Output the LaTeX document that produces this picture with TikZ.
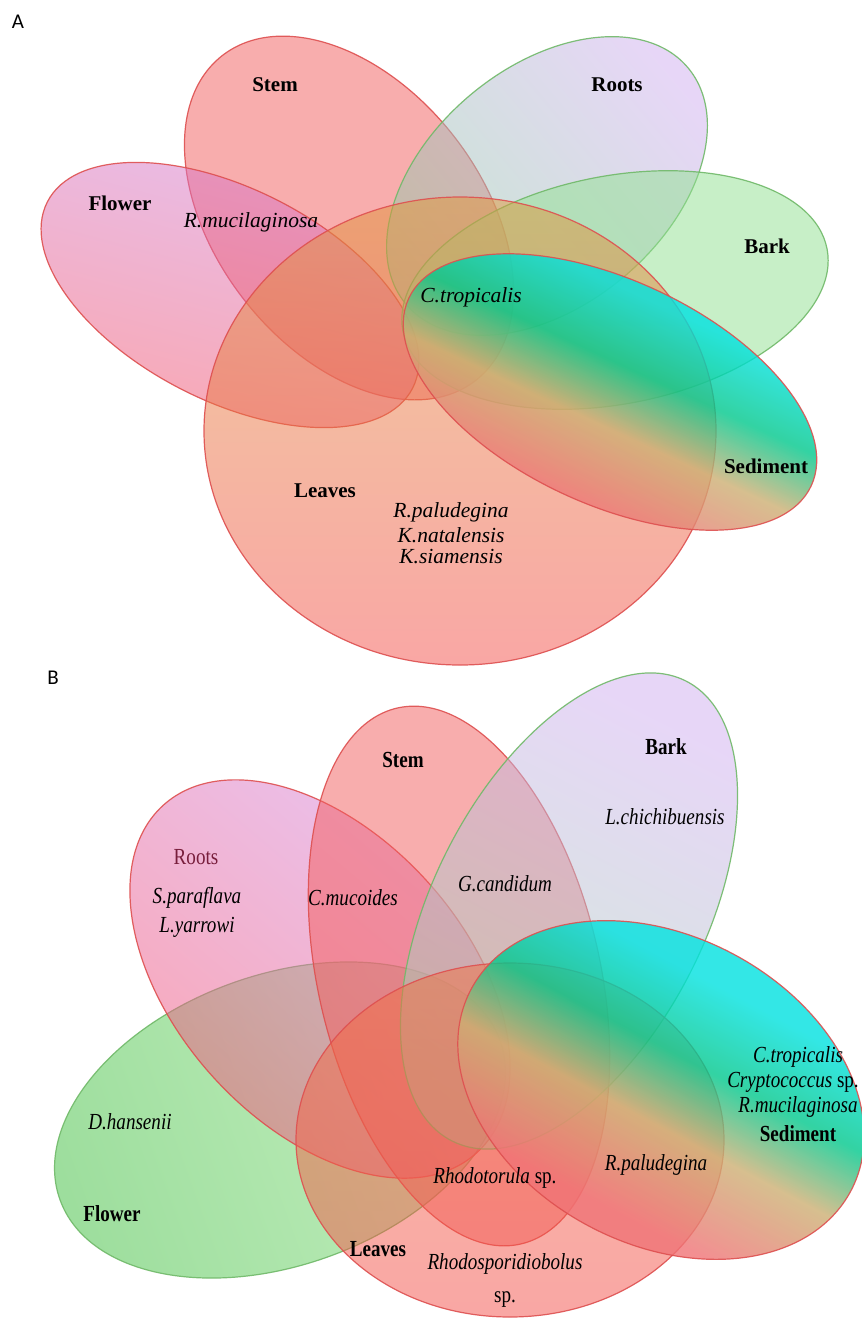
\documentclass[tikz,border=0pt]{standalone}
\usepackage{fontspec}
\setmainfont{Liberation Serif}
\newfontfamily\sansA{Carlito}
\newfontfamily\condB[FakeStretch=0.83]{Liberation Serif}
\definecolor{edgeRed}{RGB}{222,80,80}
\definecolor{edgeGreen}{RGB}{112,185,105}
\definecolor{stemC}{RGB}{243,92,92}
\definecolor{flowTop}{RGB}{210,125,215}
\definecolor{flowBot}{RGB}{245,80,100}
\definecolor{rootsL}{RGB}{209,175,241}
\definecolor{rootsG}{RGB}{140,205,160}
\definecolor{barkC}{RGB}{145,225,145}
\definecolor{leavesTop}{RGB}{225,150,60}
\definecolor{leavesBot}{RGB}{245,80,75}
\definecolor{sedRed}{RGB}{240,115,118}
\definecolor{sedTan}{RGB}{205,175,115}
\definecolor{sedGreen}{RGB}{0,200,140}
\definecolor{sedCyan}{RGB}{0,226,224}
\definecolor{rootsBTop}{RGB}{212,135,228}
\definecolor{rootsBBot}{RGB}{245,78,108}
\definecolor{barkBL}{RGB}{209,175,241}
\definecolor{barkBG}{RGB}{160,215,175}
\definecolor{flowBL}{RGB}{60,190,60}
\definecolor{flowBR}{RGB}{140,225,130}
\definecolor{leavesBTop}{RGB}{240,115,70}
\definecolor{leavesBBot}{RGB}{245,80,75}
\definecolor{maroon}{RGB}{120,30,60}
\pgfdeclareverticalshading{sedshade}{100bp}{color(0bp)=(sedRed); color(33bp)=(sedRed); color(45bp)=(sedTan); color(54bp)=(sedGreen); color(64bp)=(sedCyan); color(100bp)=(sedCyan)}
\tikzset{
  venn/.style={fill opacity=0.5, draw opacity=0.9, line width=1.2pt},
  redE/.style={venn, draw=edgeRed},
  greenE/.style={venn, draw=edgeGreen},
  sedE/.style={shade, shading=sedshade, fill opacity=0.8, draw opacity=0.9, line width=1.2pt, draw=edgeRed},
  labA/.style={font=\fontsize{21}{24}\selectfont\bfseries, inner sep=0pt},
  spA/.style={font=\fontsize{21.5}{24}\selectfont\itshape, inner sep=0pt},
  labB/.style={font=\condB\fontsize{23}{26}\selectfont\bfseries, inner sep=0pt},
  spB/.style={font=\condB\fontsize{23}{26}\selectfont\itshape, inner sep=0pt},
  panel/.style={font=\sansA\fontsize{21}{24}\selectfont, inner sep=0pt},
}
\begin{document}
\begin{tikzpicture}[x=1pt,y=-1pt]
\useasboundingbox (0,0) rectangle (862,1320);
\fill[white] (0,0) rectangle (862,1320);
% ---------------- Panel A ----------------
\path[redE, fill=stemC, rotate around={-52:(349,218)}] (349,218) ellipse [x radius=206pt, y radius=133pt];
\path[redE, shade, top color=flowTop, middle color=flowBot, bottom color=flowBot, shading angle=-15, rotate around={-27:(230,295)}] (230,295) ellipse [x radius=205pt, y radius=106pt];
\path[greenE, shade, top color=rootsL, bottom color=rootsG, shading angle=-50, rotate around={40:(547,186)}] (547,186) ellipse [x radius=184pt, y radius=119pt];
\path[greenE, fill=barkC, rotate around={11:(615,290)}] (615,290) ellipse [x radius=216pt, y radius=114pt];
\path[redE, shade, top color=leavesTop, bottom color=leavesBot] (460,431) ellipse [x radius=256pt, y radius=234pt];
\path[sedE, shading angle=-25, rotate around={-25:(610,392)}] (610,392) ellipse [x radius=222pt, y radius=112pt];
\node[panel] (pA) at (18,22) {A};
\node[labA] (stemA) at (275,85) {Stem};
\node[labA] (rootsA) at (617,85) {Roots};
\node[labA] (flowerA) at (120,203) {Flower};
\node[labA] (barkA) at (767,246) {Bark};
\node[labA] (sedA) at (766,466) {Sediment};
\node[labA] (leavesA) at (325,491) {Leaves};
\node[spA] (rmucA) at (251,222) {R.mucilaginosa};
\node[spA] (ctropA) at (471,297) {C.tropicalis};
\node[spA] (rpalA) at (451,512) {R.paludegina};
\node[spA] (knatA) at (451,535) {K.natalensis};
\node[spA] (ksiaA) at (451,557) {K.siamensis};
% ---------------- Panel B ----------------
\path[greenE, shade, left color=flowBL, right color=flowBR, shading angle=110, rotate around={20:(280,1120)}] (280,1120) ellipse [x radius=234pt, y radius=145pt];
\path[redE, shade, top color=rootsBTop, middle color=rootsBBot, bottom color=rootsBBot, shading angle=-40, rotate around={-48:(320,979)}] (320,979) ellipse [x radius=234pt, y radius=145pt];
\path[redE, fill=stemC, rotate around={-77:(459,976)}] (459,976) ellipse [x radius=275pt, y radius=141pt];
\path[greenE, shade, top color=barkBL, bottom color=barkBG, shading angle=-27, rotate around={63:(569,911)}] (569,911) ellipse [x radius=258pt, y radius=136pt];
\path[redE, shade, top color=leavesBTop, bottom color=leavesBBot] (510,1140) ellipse [x radius=214pt, y radius=177pt];
\path[sedE, shading angle=-28, rotate around={-28:(661,1090)}] (661,1090) ellipse [x radius=215pt, y radius=154pt];
\node[panel] (pB) at (53,678) {B};
\node[labB] (stemB) at (403,760) {Stem};
\node[labB] (barkB) at (666,747) {Bark};
\node[spB] (lchiB) at (665,817) {L.chichibuensis};
\node[font=\condB\fontsize{23}{26}\selectfont, text=maroon, inner sep=0pt] (rootsB) at (196,857) {Roots};
\node[spB] (sparB) at (197,898) {S.paraflava};
\node[spB] (lyarB) at (197,927) {L.yarrowi};
\node[spB] (cmucB) at (353,898) {C.mucoides};
\node[spB] (gcanB) at (505,884) {G.candidum};
\node[spB] (dhanB) at (130,1122) {D.hansenii};
\node[labB] (flowerB) at (112,1214) {Flower};
\node[spB] (ctropB) at (798,1057) {C.tropicalis};
\node[spB] (cryB) at (793,1082) {Cryptococcus\upshape\ sp.};
\node[spB] (rmucB) at (798,1107) {R.mucilaginosa};
\node[labB] (sedB) at (798,1134) {Sediment};
\node[spB] (rpalB) at (656,1165) {R.paludegina};
\node[spB] (rhodB) at (495,1178) {Rhodotorula\upshape\ sp.};
\node[labB] (leavesB) at (378,1249) {Leaves};
\node[spB] (rsporB) at (505,1264) {Rhodosporidiobolus};
\node[font=\condB\fontsize{23}{26}\selectfont, inner sep=0pt] (spB) at (505,1300) {sp.};
\end{tikzpicture}
\end{document}
